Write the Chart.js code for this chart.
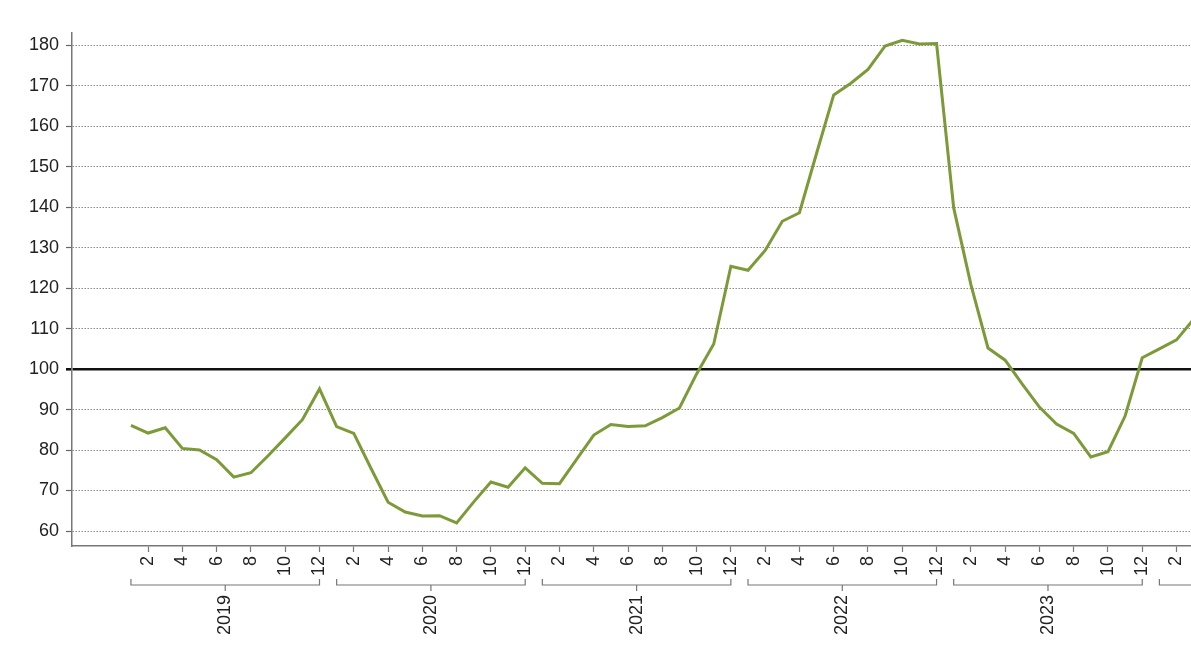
<!DOCTYPE html>
<html>
<head>
<meta charset="utf-8">
<style>
  html, body { margin: 0; padding: 0; background: #fff; overflow: hidden; }
  #wrap { width: 1260px; height: 669px; }
</style>
<script src="https://cdn.jsdelivr.net/npm/chart.js@4/dist/chart.umd.min.js"></script>
</head>
<body>
<div id="wrap"><canvas id="chart" width="1260" height="669"></canvas></div>
<script>
// monthly index values, Jan 2019 .. Mar 2024
const years = [2019, 2020, 2021, 2022, 2023, 2024];
const v2019 = [86.1, 84.2, 85.5, 80.4, 80.0, 77.6, 73.3, 74.4, 78.6, 83.0, 87.5, 95.1];
const v2020 = [85.8, 84.1, 75.5, 67.1, 64.7, 63.7, 63.8, 62.0, 67.2, 72.1, 70.8, 75.6];
const v2021 = [71.8, 71.7, 77.7, 83.7, 86.3, 85.8, 86.0, 88.0, 90.4, 98.8, 106.2, 125.4];
const v2022 = [124.4, 129.3, 136.5, 138.6, 153.3, 167.7, 170.6, 174.0, 179.8, 181.2, 180.3, 180.4];
const v2023 = [139.8, 120.9, 105.2, 102.2, 96.3, 90.6, 86.4, 84.1, 78.3, 79.6, 88.4, 102.8];
const v2024 = [105.0, 107.2, 112.3];

const monthLabels = [2, 4, 6, 8, 10, 12];
const yTicks = [60, 70, 80, 90, 100, 110, 120, 130, 140, 150, 160, 170, 180];
const refValue = 100;

const values = [].concat(v2019, v2020, v2021, v2022, v2023, v2024);
const points = values.map((v, i) => ({ x: i, y: v }));

const FONT = "'Liberation Sans', Arial, sans-serif";
const xMin = -3.44, xMax = 65.87;

// year brackets under the month labels
const yearBrackets = {
    id: 'yearBrackets',
    afterDraw(chart) {
        const xs = chart.scales.x;
        const c = chart.ctx;
        const yLine = xs.top + 39;
        c.save();
        c.strokeStyle = '#777';
        c.lineWidth = 1.2;
        c.fillStyle = '#222';
        c.font = '18px ' + FONT;
        years.forEach((yr, k) => {
            const x1 = xs.getPixelForValue(k * 12);
            const x2 = xs.getPixelForValue(k * 12 + 11);
            const cx = (x1 + x2) / 2;
            c.beginPath();
            c.moveTo(x1, yLine - 6);
            c.lineTo(x1, yLine);
            c.lineTo(x2, yLine);
            c.lineTo(x2, yLine - 6);
            c.moveTo(cx, yLine);
            c.lineTo(cx, yLine + 6);
            c.stroke();
            c.save();
            c.translate(cx, yLine + 10);
            c.rotate(-Math.PI / 2);
            c.textAlign = 'right';
            c.textBaseline = 'middle';
            c.fillText(String(yr), 0, 0);
            c.restore();
        });
        c.restore();
    }
};

const ctx = document.getElementById('chart').getContext('2d');
const chart = new Chart(ctx, {
    type: 'line',
    data: {
        datasets: [
            {
                data: points,
                borderColor: '#7c9a38',
                borderWidth: 3,
                pointRadius: 0,
                tension: 0,
                fill: false,
            },
        ],
    },
    options: {
        responsive: false,
        animation: false,
        layout: { padding: { top: 33, left: 0, right: 0, bottom: 0 } },
        plugins: {
            legend: { display: false },
            tooltip: { enabled: false },
        },
        scales: {
            x: {
                type: 'linear',
                min: xMin,
                max: xMax,
                afterFit(scale) {
                    scale.height = 123;
                    scale.paddingLeft = 0;
                    scale.paddingRight = 0;
                },
                afterBuildTicks(scale) {
                    const t = [];
                    years.forEach((yr, k) => {
                        monthLabels.forEach(m => {
                            const v = k * 12 + m - 1;
                            if (v <= xMax - 0.5) t.push({ value: v });
                        });
                    });
                    scale.ticks = t;
                },
                grid: {
                    drawOnChartArea: false,
                    drawTicks: true,
                    tickLength: 6,
                    tickColor: '#777',
                    tickWidth: 1.2,
                },
                border: { color: '#777', width: 1.5 },
                ticks: {
                    autoSkip: false,
                    minRotation: 90,
                    maxRotation: 90,
                    padding: 4,
                    color: '#222',
                    font: { family: FONT, size: 18 },
                    callback: (v) => String((Math.round(v) % 12) + 1),
                },
            },
            y: {
                min: 56.3,
                max: 183,
                afterFit(scale) { scale.width = 72; },
                afterBuildTicks(scale) {
                    scale.ticks = yTicks.map(v => ({ value: v }));
                },
                grid: {
                    drawTicks: true,
                    tickLength: 6,
                    color: (c) => (c.tick && c.tick.value === refValue ? '#111' : '#8c8c8c'),
                    lineWidth: (c) => (c.tick && c.tick.value === refValue ? 2.6 : 1),
                    tickColor: (c) => (c.tick && c.tick.value === refValue ? '#111' : '#666'),
                    tickWidth: (c) => (c.tick && c.tick.value === refValue ? 2.6 : 1.2),
                },
                border: {
                    color: '#777',
                    width: 1.5,
                    dash: (c) => (c.tick && c.tick.value === refValue ? [] : [1.5, 1.5]),
                },
                ticks: {
                    padding: 7,
                    color: '#222',
                    font: { family: FONT, size: 18 },
                },
            },
        },
    },
    plugins: [yearBrackets],
});
</script>
</body>
</html>
